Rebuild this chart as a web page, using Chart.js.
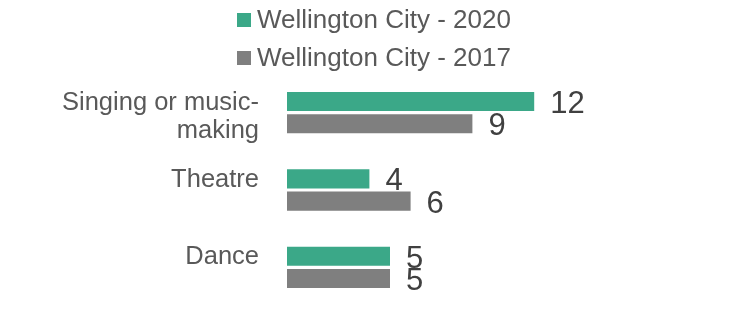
<!DOCTYPE html>
<html>
<head>
<meta charset="utf-8">
<script src="https://cdn.jsdelivr.net/npm/chart.js@4"></script>
<style>
  body { margin: 0; background: #fff; }
  #wrap { width: 730px; height: 324px; position: relative; }
</style>
</head>
<body>
<div id="wrap"><canvas id="artsChart"></canvas></div>
<script>
// Participation par activité
const categories = [["Singing or music-", "making"], ["Theatre", ""], ["Dance", ""]];
const seriesNames = ["Wellington City - 2020", "Wellington City - 2017"];
const values2020 = [12, 4, 5];
const values2017 = [9, 6, 5];
const seriesColors = ["#3BA888", "#7F7F7F"];

const FONT = "'Liberation Sans', Arial, sans-serif";

// Légende empilée en haut
const stackedLegend = {
  id: "stackedLegend",
  afterDraw(chart) {
    const ctx = chart.ctx;
    ctx.save();
    ctx.font = "26px " + FONT;
    ctx.textBaseline = "middle";
    ctx.textAlign = "left";
    chart.data.datasets.forEach((ds, i) => {
      const y = 20 + i * 38;
      ctx.fillStyle = ds.backgroundColor;
      ctx.fillRect(237, y - 7, 14, 14);
      ctx.fillStyle = "#595959";
      ctx.fillText(ds.label, 257, y + 1);
    });
    ctx.restore();
  },
};

// Valeurs au bout des barres
const barValues = {
  id: "barValues",
  afterDatasetsDraw(chart) {
    const ctx = chart.ctx;
    ctx.save();
    ctx.font = "31px " + FONT;
    ctx.fillStyle = "#404040";
    ctx.textBaseline = "middle";
    ctx.textAlign = "left";
    chart.data.datasets.forEach((ds, i) => {
      chart.getDatasetMeta(i).data.forEach((bar, j) => {
        ctx.fillText(ds.data[j], bar.x + 16, bar.y + 3);
      });
    });
    ctx.restore();
  },
};

new Chart(document.getElementById("artsChart").getContext("2d"), {
  type: "bar",
  data: {
    labels: categories,
    datasets: [
      { label: seriesNames[0], data: values2020, backgroundColor: seriesColors[0] },
      { label: seriesNames[1], data: values2017, backgroundColor: seriesColors[1] },
    ],
  },
  options: {
    indexAxis: "y",
    responsive: true,
    maintainAspectRatio: false,
    animation: false,
    categoryPercentage: 0.574,
    barPercentage: 0.86,
    layout: { padding: { top: 74, right: 31, bottom: 18, left: 0 } },
    plugins: {
      legend: { display: false },
      tooltip: { enabled: false },
    },
    scales: {
      x: { display: false, min: 0, max: 20 },
      y: {
        afterFit: (s) => {
          s.width = 287;
          s.paddingTop = 0;
          s.paddingBottom = 0;
        },
        grid: { display: false, drawTicks: false },
        border: { display: false },
        ticks: {
          color: "#595959",
          font: { family: FONT, size: 25.5, lineHeight: 1.1 },
          padding: 28,
          labelOffset: 4,
        },
      },
    },
  },
  plugins: [stackedLegend, barValues],
});
</script>
</body>
</html>
